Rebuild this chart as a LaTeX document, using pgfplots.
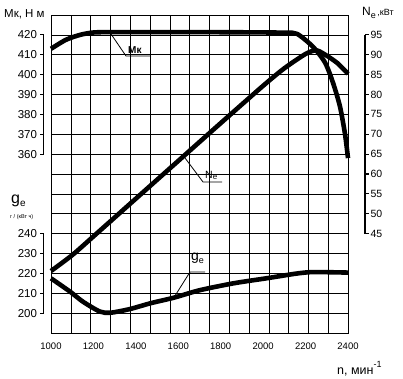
\documentclass[border=0pt]{standalone}
\usepackage{pgfplots}
\pgfplotsset{compat=1.18}
\usepackage{fontspec}
\setmainfont{Liberation Sans}
\begin{document}
\begin{tikzpicture}[x=1pt,y=1pt]
\path[use as bounding box] (0,0) rectangle (403,378);
\pgfplotsset{
 common/.style={scale only axis, width=297pt, height=318pt, at={(51pt,45pt)}, anchor=south west,
   xmin=1000, xmax=2400, clip=false,
   /pgf/number format/assume math mode=true,
   /pgf/number format/1000 sep={},
   major tick length=0pt, minor tick length=0pt},
 curve/.style={black, line width=4.6pt, smooth, tension=0.45, line join=round},
}
% Grid + Ne (right axis)
\begin{axis}[common, ymin=20, ymax=100,
  xtick={1000,1200,...,2400},
  minor xtick={1093.333,1186.667,1280,1373.333,1466.667,1560,1653.333,1746.667,1840,1933.333,2026.667,2120,2213.333,2306.667},
  ytick={45,50,...,95},
  minor ytick={20,25,...,100},
  xminorgrids=true, yminorgrids=true, xmajorgrids=false, ymajorgrids=false,
  minor grid style={black, line width=0.55pt},
  axis line style={black, line width=0.7pt},
  tick style={draw=none}, minor tick style={draw=none},
  yticklabel pos=right,
  yticklabel style={anchor=west, xshift=19pt, font=\fontsize{10.5}{12}\selectfont},
  xticklabel style={yshift=-6pt, font=\fontsize{9.5}{12}\selectfont},
]
\addplot[curve] coordinates {(1000,35.6)(1100,39.6)(1200,44.3)(1400,53.8)(1600,63.3)(1800,72.8)(2000,82.2)(2100,86.6)(2200,90.2)(2250,91.1)(2290,90.1)(2350,87.9)(2400,85.2)};
\draw[line width=1.1pt] ([xshift=17pt]axis cs:2400,45) -- ([xshift=17pt]axis cs:2400,95);
\pgfplotsinvokeforeach{45,50,55,60,65,70,75,80,85,90,95}{
  \draw[line width=1.1pt] ([xshift=17pt]axis cs:2400,#1) -- ([xshift=20.5pt]axis cs:2400,#1);
}
\end{axis}
% Mk (left upper axis)
\begin{axis}[common, ymin=270, ymax=430,
  axis line style={draw=none}, xtick=\empty,
  ytick={360,370,...,420}, tick style={draw=none},
  yticklabel style={anchor=east, xshift=-10.5pt, font=\fontsize{11.5}{13}\selectfont},
]
\addplot[curve] coordinates {(1000,413)(1070,417.5)(1137,420)(1200,421.2)(1300,421.4)(1600,421.4)(1900,421.3)(2100,421.1)(2160,420.5)(2235,414)(2292,406)(2329,396)(2362,384)(2386,370)(2400,358)};
\draw[line width=1.1pt] ([xshift=-7.5pt]axis cs:1000,360) -- ([xshift=-7.5pt]axis cs:1000,420);
\pgfplotsinvokeforeach{360,370,380,390,400,410,420}{
  \draw[line width=1.1pt] ([xshift=-7.5pt]axis cs:1000,#1) -- ([xshift=-11.5pt]axis cs:1000,#1);
}
\end{axis}
% g_e (left lower axis)
\begin{axis}[common, ymin=190, ymax=350,
  axis line style={draw=none}, xtick=\empty,
  ytick={200,210,...,240}, tick style={draw=none},
  yticklabel style={anchor=east, xshift=-10.5pt, font=\fontsize{11.5}{13}\selectfont},
]
\addplot[curve] coordinates {(1000,217.5)(1090,210.8)(1150,205.8)(1230,200.8)(1280,200.2)(1370,202)(1470,205)(1580,207.8)(1700,211.5)(1860,215)(2020,217.6)(2150,219.8)(2220,220.6)(2300,220.6)(2400,220.4)};
\draw[line width=1.1pt] ([xshift=-7.5pt]axis cs:1000,200) -- ([xshift=-7.5pt]axis cs:1000,240);
\pgfplotsinvokeforeach{200,210,220,230,240}{
  \draw[line width=1.1pt] ([xshift=-7.5pt]axis cs:1000,#1) -- ([xshift=-11.5pt]axis cs:1000,#1);
}
\end{axis}
% leaders and curve labels
\draw[line width=0.8pt] (111,344) -- (126,322) -- (150,322);
\node[anchor=south west, inner sep=0pt, font=\fontsize{10}{12}\selectfont\bfseries] at (128,324) {Мк};
\draw[line width=0.8pt] (185,220) -- (203,196) -- (222,196);
\node[anchor=south west, inner sep=0pt, font=\fontsize{10.5}{12}\selectfont] at (205,198) {N\raisebox{-1pt}{\fontsize{8}{9}\selectfont e}};
\draw[line width=0.8pt] (173,79) -- (190,106) -- (205,106);
\node[anchor=south west, inner sep=0pt, font=\fontsize{14}{16}\selectfont] at (191,114) {g\raisebox{-3pt}{\fontsize{9}{10}\selectfont e}};
% axis titles
\node[anchor=base west, inner sep=0pt, font=\fontsize{11.5}{13}\selectfont] at (4,360) {Мк, Н м};
\node[anchor=base west, inner sep=0pt, font=\fontsize{12}{14}\selectfont] at (362,362) {N\raisebox{-2.5pt}{\fontsize{9}{10}\selectfont e}\fontsize{9}{10}\selectfont\,,кВт};
\node[anchor=base west, inner sep=0pt, font=\fontsize{16}{18}\selectfont] at (11,175) {g\raisebox{-3.5pt}{\fontsize{10}{11}\selectfont e}};
\node[anchor=base west, inner sep=0pt, font=\fontsize{5.5}{6}\selectfont] at (10,160) {г / (кВт ч)};
\node[anchor=base west, inner sep=0pt, font=\fontsize{12.5}{14}\selectfont] at (337,4) {n, мин\raisebox{7pt}{\fontsize{9}{10}\selectfont -1}};
\end{tikzpicture}
\end{document}
